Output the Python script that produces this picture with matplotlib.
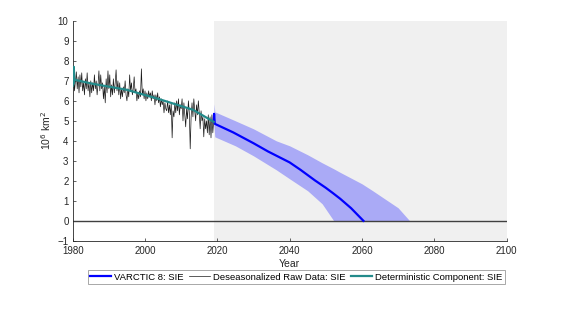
import matplotlib
matplotlib.use("Agg")
import matplotlib.pyplot as plt
import numpy as np

plt.rcParams['font.family'] = ['Liberation Sans', 'DejaVu Sans']

# Deseasonalized raw data (quarterly samples)
raw_years = np.arange(1980.0, 2019.0, 0.25).tolist() + [2019.0]
raw_vals = [
    6.7, 7.3, 6.5, 7.0,
    7.45, 6.6, 7.2, 6.4,
    7.3, 6.7, 7.4, 6.5,
    6.9, 6.3, 7.1, 6.6,
    7.4, 6.5, 6.9, 6.2,
    7.0, 6.4, 6.9, 6.5,
    7.3, 6.6, 7.0, 6.3,
    6.8, 7.5, 6.5, 7.3,
    6.6, 6.9, 6.1, 6.7,
    5.9, 7.1, 6.4, 7.5,
    6.6, 7.3, 6.2, 6.8,
    6.3, 7.1, 6.4, 6.9,
    7.55, 6.5, 7.0, 6.3,
    6.9, 6.1, 6.6, 6.2,
    6.7, 6.4, 7.0, 6.3,
    6.0, 6.6, 6.2, 7.3,
    6.5, 6.9, 6.3, 6.6,
    7.2, 6.4, 6.6, 6.0,
    6.4, 6.1, 6.5, 6.2,
    7.6, 6.3, 6.6, 6.1,
    6.5, 6.0, 6.4, 6.1,
    6.5, 6.2, 6.4, 6.0,
    6.5, 6.1, 6.3, 5.8,
    6.3, 6.0, 6.4, 5.9,
    6.2, 5.7, 6.1, 5.8,
    6.0, 5.4, 5.9, 5.6,
    5.5, 6.0, 5.4, 5.8,
    5.3, 5.9, 4.15, 5.5,
    5.2, 5.9, 5.4, 6.0,
    5.5, 6.1, 5.3, 5.8,
    5.6, 6.1, 5.0, 5.9,
    5.3, 4.7, 5.6, 5.1,
    6.0, 5.4, 3.6, 5.2,
    5.9, 5.2, 6.1, 5.5,
    5.0, 5.8, 5.3, 6.0,
    5.4, 4.6, 5.5, 5.0,
    5.2, 4.2, 5.1, 4.6,
    5.0, 4.4, 5.3, 4.3,
    5.2, 4.15, 5.3, 4.4,
    5.0,
]

# Deterministic component
det_years = [1980.0, 1980.1, 1980.2, 1980.3, 1980.45, 1980.6, 1985.6, 1995.0, 2004.0, 2013.3, 2019.0]
det_vals = [6.75, 7.1, 6.85, 7.7, 7.0, 7.05, 6.85, 6.55, 6.08, 5.55, 4.95]

# VARCTIC 8 forecast mean
fc_years = [2019.0, 2019.1, 2019.3, 2024.4, 2030.0, 2034.0, 2040.0, 2043.0, 2047.0, 2050.0, 2052.0, 2054.0, 2057.0, 2060.4]
fc_vals = [4.95, 5.35, 4.85, 4.42, 3.88, 3.47, 2.92, 2.55, 2.02, 1.65, 1.38, 1.1, 0.63, 0.0]

# Forecast band
band_years = [2019.0, 2019.1, 2019.3, 2025.0, 2030.0, 2036.3, 2040.0, 2045.0, 2049.0, 2052.2, 2054.0, 2060.0, 2063.0, 2070.0, 2073.2]
band_upper = [5.0, 5.85, 5.45, 5.0, 4.6, 4.0, 3.75, 3.3, 2.9, 2.6, 2.42, 1.85, 1.5, 0.65, 0.0]
band_lower = [4.9, 4.7, 4.2, 3.75, 3.25, 2.55, 2.1, 1.5, 0.85, 0.0, 0.0, 0.0, 0.0, 0.0, 0.0]

xticks = [1980, 2000, 2020, 2040, 2060, 2080, 2100]
yticks = list(range(-1, 11))

fig = plt.figure(figsize=(5.61, 3.16), dpi=100)
ax = fig.add_axes([0.1296, 0.238, 0.7734, 0.696])

ax.axvspan(2019.0, 2100, color='#f0f0f0', zorder=0, lw=0)
ax.fill_between(band_years, band_lower, band_upper, color='#aaaaf6', lw=0, zorder=1)
ax.axhline(0, color='#404040', lw=1.0, zorder=2)
l1, = ax.plot(fc_years, fc_vals, color='#0000ff', lw=1.6, zorder=4, label='VARCTIC 8: SIE')
l2, = ax.plot(raw_years, raw_vals, color='#1a1a1a', lw=0.5, zorder=3, label='Deseasonalized Raw Data: SIE')
l3, = ax.plot(det_years, det_vals, color='#238b8b', lw=1.6, zorder=5, label='Deterministic Component: SIE')

ax.set_xlim(1980, 2100)
ax.set_ylim(-1, 10)
ax.set_xticks(xticks)
ax.set_yticks(yticks)
for s in ['top', 'right']:
    ax.spines[s].set_visible(False)
for s in ['left', 'bottom']:
    ax.spines[s].set_color('#262626')
    ax.spines[s].set_linewidth(0.6)
ax.tick_params(direction='in', length=2.5, width=0.5, colors='#262626', labelsize=7)
ax.tick_params(axis='x', pad=4)
ax.tick_params(axis='y', pad=3)
ax.set_xlabel('Year', fontsize=7.5, color='#262626', labelpad=2)
ax.set_ylabel(r'10$^6$ km$^2$', fontsize=7.5, color='#262626', labelpad=3)

leg = fig.legend(handles=[l1, l2, l3], loc='center', bbox_to_anchor=(0.528, 0.123), ncol=3,
                 fontsize=6.8, frameon=True, fancybox=False, edgecolor='#808080',
                 handlelength=2.2, handletextpad=0.3, columnspacing=0.6, borderpad=0.3,
                 borderaxespad=0)
leg.get_frame().set_linewidth(0.6)

fig.savefig('out.png', dpi=100)
